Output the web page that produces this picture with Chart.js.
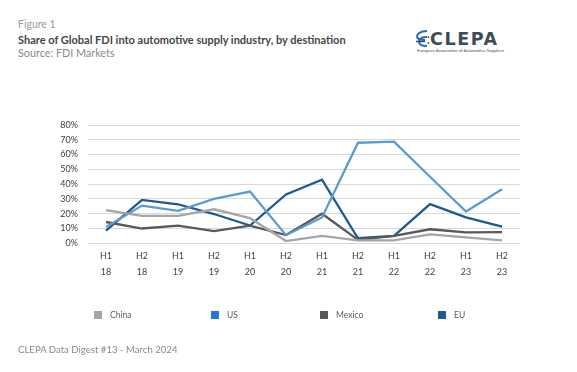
<!DOCTYPE html>
<html>
<head>
<meta charset="utf-8">
<script src="https://cdn.jsdelivr.net/npm/chart.js@4.4.1/dist/chart.umd.min.js"></script>
<style>
  body { margin: 0; background: #fff; width: 577px; height: 372px; overflow: hidden; position: relative; font-family: Lato, "Open Sans", sans-serif; }
  #wrap { position: absolute; left: 0; top: 0; width: 577px; height: 372px; }
  .txt { position: absolute; white-space: nowrap; }
  #fig { left: 18px; top: 18px; font-size: 10.5px; color: #9a9a9a; }
  #titre { left: 18px; top: 33px; font-size: 11px; font-weight: bold; color: #454545; }
  #source { left: 18px; top: 46px; font-size: 10.8px; color: #8a8a8a; }
  #pied { left: 18px; top: 344px; font-size: 9.6px; color: #8a8a8a; }
  #logo { position: absolute; left: 414px; top: 28px; width: 90px; height: 28px; }
  #clepa { left: 430px; top: 28.5px; font-size: 17.5px; font-weight: bold; letter-spacing: 1.6px; color: #3d4b59; font-family: "DejaVu Sans", sans-serif; }
  #eaas { left: 417px; top: 47.5px; font-size: 4.3px; color: #3d4b59; }
  .leg { position: absolute; top: 310px; font-size: 8.5px; color: #595959; display: flex; align-items: center; }
  .leg span.sq { width: 8px; height: 8px; margin-right: 8px; display: inline-block; }
</style>
</head>
<body>
<div class="txt" id="fig">Figure 1</div>
<div class="txt" id="titre">Share of Global FDI into automotive supply industry, by destination</div>
<div class="txt" id="source">Source: FDI Markets</div>
<svg id="logo" viewBox="0 0 90 28">
  <path d="M13 3 C6 3 3 6 3 8.5 C3 11 6 12 11 12" stroke="#2a6bb0" stroke-width="2" fill="none"/>
  <path d="M13 9 C7 9 5 11 5 13.5 C5 16 7 18 13 18" stroke="#2a6bb0" stroke-width="2" fill="none"/>
  <path d="M2 13.5 L11 13.5" stroke="#3d4b59" stroke-width="1.5"/>
  <circle cx="14.5" cy="9" r="0.9" fill="#3d4b59"/>
  <circle cx="14.5" cy="15" r="0.9" fill="#3d4b59"/>
</svg>
<div class="txt" id="clepa">CLEPA</div>
<div class="txt" id="eaas">European Association of Automotive Suppliers</div>
<div id="wrap"><canvas id="myChart"></canvas></div>
<div class="txt" id="pied">CLEPA Data Digest #13 - March 2024</div>

<script>
// periodes (semestre + annee)
const periodes = [['H1','18'],['H2','18'],['H1','19'],['H2','19'],['H1','20'],['H2','20'],
                  ['H1','21'],['H2','21'],['H1','22'],['H2','22'],['H1','23'],['H2','23']];

// parts en %
const china  = [22.5, 18.5, 18.5, 23, 17, 1.5, 5, 2, 2, 6, 4, 2];
const us     = [11, 25.5, 22, 30, 35, 5.5, 17.5, 68, 68.7, 45, 21.5, 36.5];
const mexico = [14.4, 10, 12, 8.3, 12, 5.6, 20, 2.3, 5, 9.5, 7.4, 7.5];
const eu     = [8.5, 29.3, 26.4, 19.8, 12, 33, 43, 3.4, 5, 26.5, 17.5, 11.2];

const yTicks = [0, 10, 20, 30, 40, 50, 60, 70, 80];

const series = [
    { label: 'China',  data: china,  line: '#a5a5a5', box: '#a5a5a5' },
    { label: 'US',     data: us,     line: '#5b9bd5', box: '#1f7ad1' },
    { label: 'Mexico', data: mexico, line: '#595959', box: '#595959' },
    { label: 'EU',     data: eu,     line: '#1f5a8e', box: '#1f5a8e' }
];

// legende en html
const legPos = [94, 211, 320, 438];
series.forEach(function (s, i) {
    var leg = document.createElement('div');
    leg.className = 'leg';
    leg.style.left = legPos[i] + 'px';
    leg.innerHTML = "<span class='sq' style='background:" + s.box + "'></span>" + s.label;
    document.body.appendChild(leg);
});

const data = {
    labels: periodes,
    datasets: series.map(function (s) {
        return {
            label: s.label,
            data: s.data,
            borderColor: s.line,
            backgroundColor: s.line,
            borderWidth: 2.3,
            pointRadius: 0,
            tension: 0
        };
    })
};

const config = {
    type: 'line',
    data: data,
    options: {
        responsive: true,
        maintainAspectRatio: false,
        animation: false,
        layout: { padding: { left: 48, right: 57, top: 125, bottom: 88.7 } },
        plugins: { legend: { display: false }, tooltip: { enabled: false } },
        scales: {
            x: {
                offset: true,
                grid: { display: false, drawTicks: false },
                border: { display: false },
                afterFit: function (scale) { scale.height = 40; },
                ticks: {
                    padding: 5,
                    maxRotation: 0,
                    color: '#404040',
                    font: { family: 'Lato, sans-serif', size: 9, lineHeight: 1.75 }
                }
            },
            y: {
                min: 0,
                max: 80,
                afterFit: function (scale) { scale.width = 40; },
                afterBuildTicks: function (scale) {
                    scale.ticks = yTicks.map(function (v) { return { value: v }; });
                },
                grid: { color: '#d9d9d9', lineWidth: 1, drawTicks: false },
                border: { display: false },
                ticks: {
                    padding: 10,
                    color: '#404040',
                    font: { family: 'Lato, sans-serif', size: 9 },
                    callback: function (v) { return v + '%'; }
                }
            }
        }
    }
};

myChart = new Chart(document.getElementById('myChart'), config);
</script>
</body>
</html>
